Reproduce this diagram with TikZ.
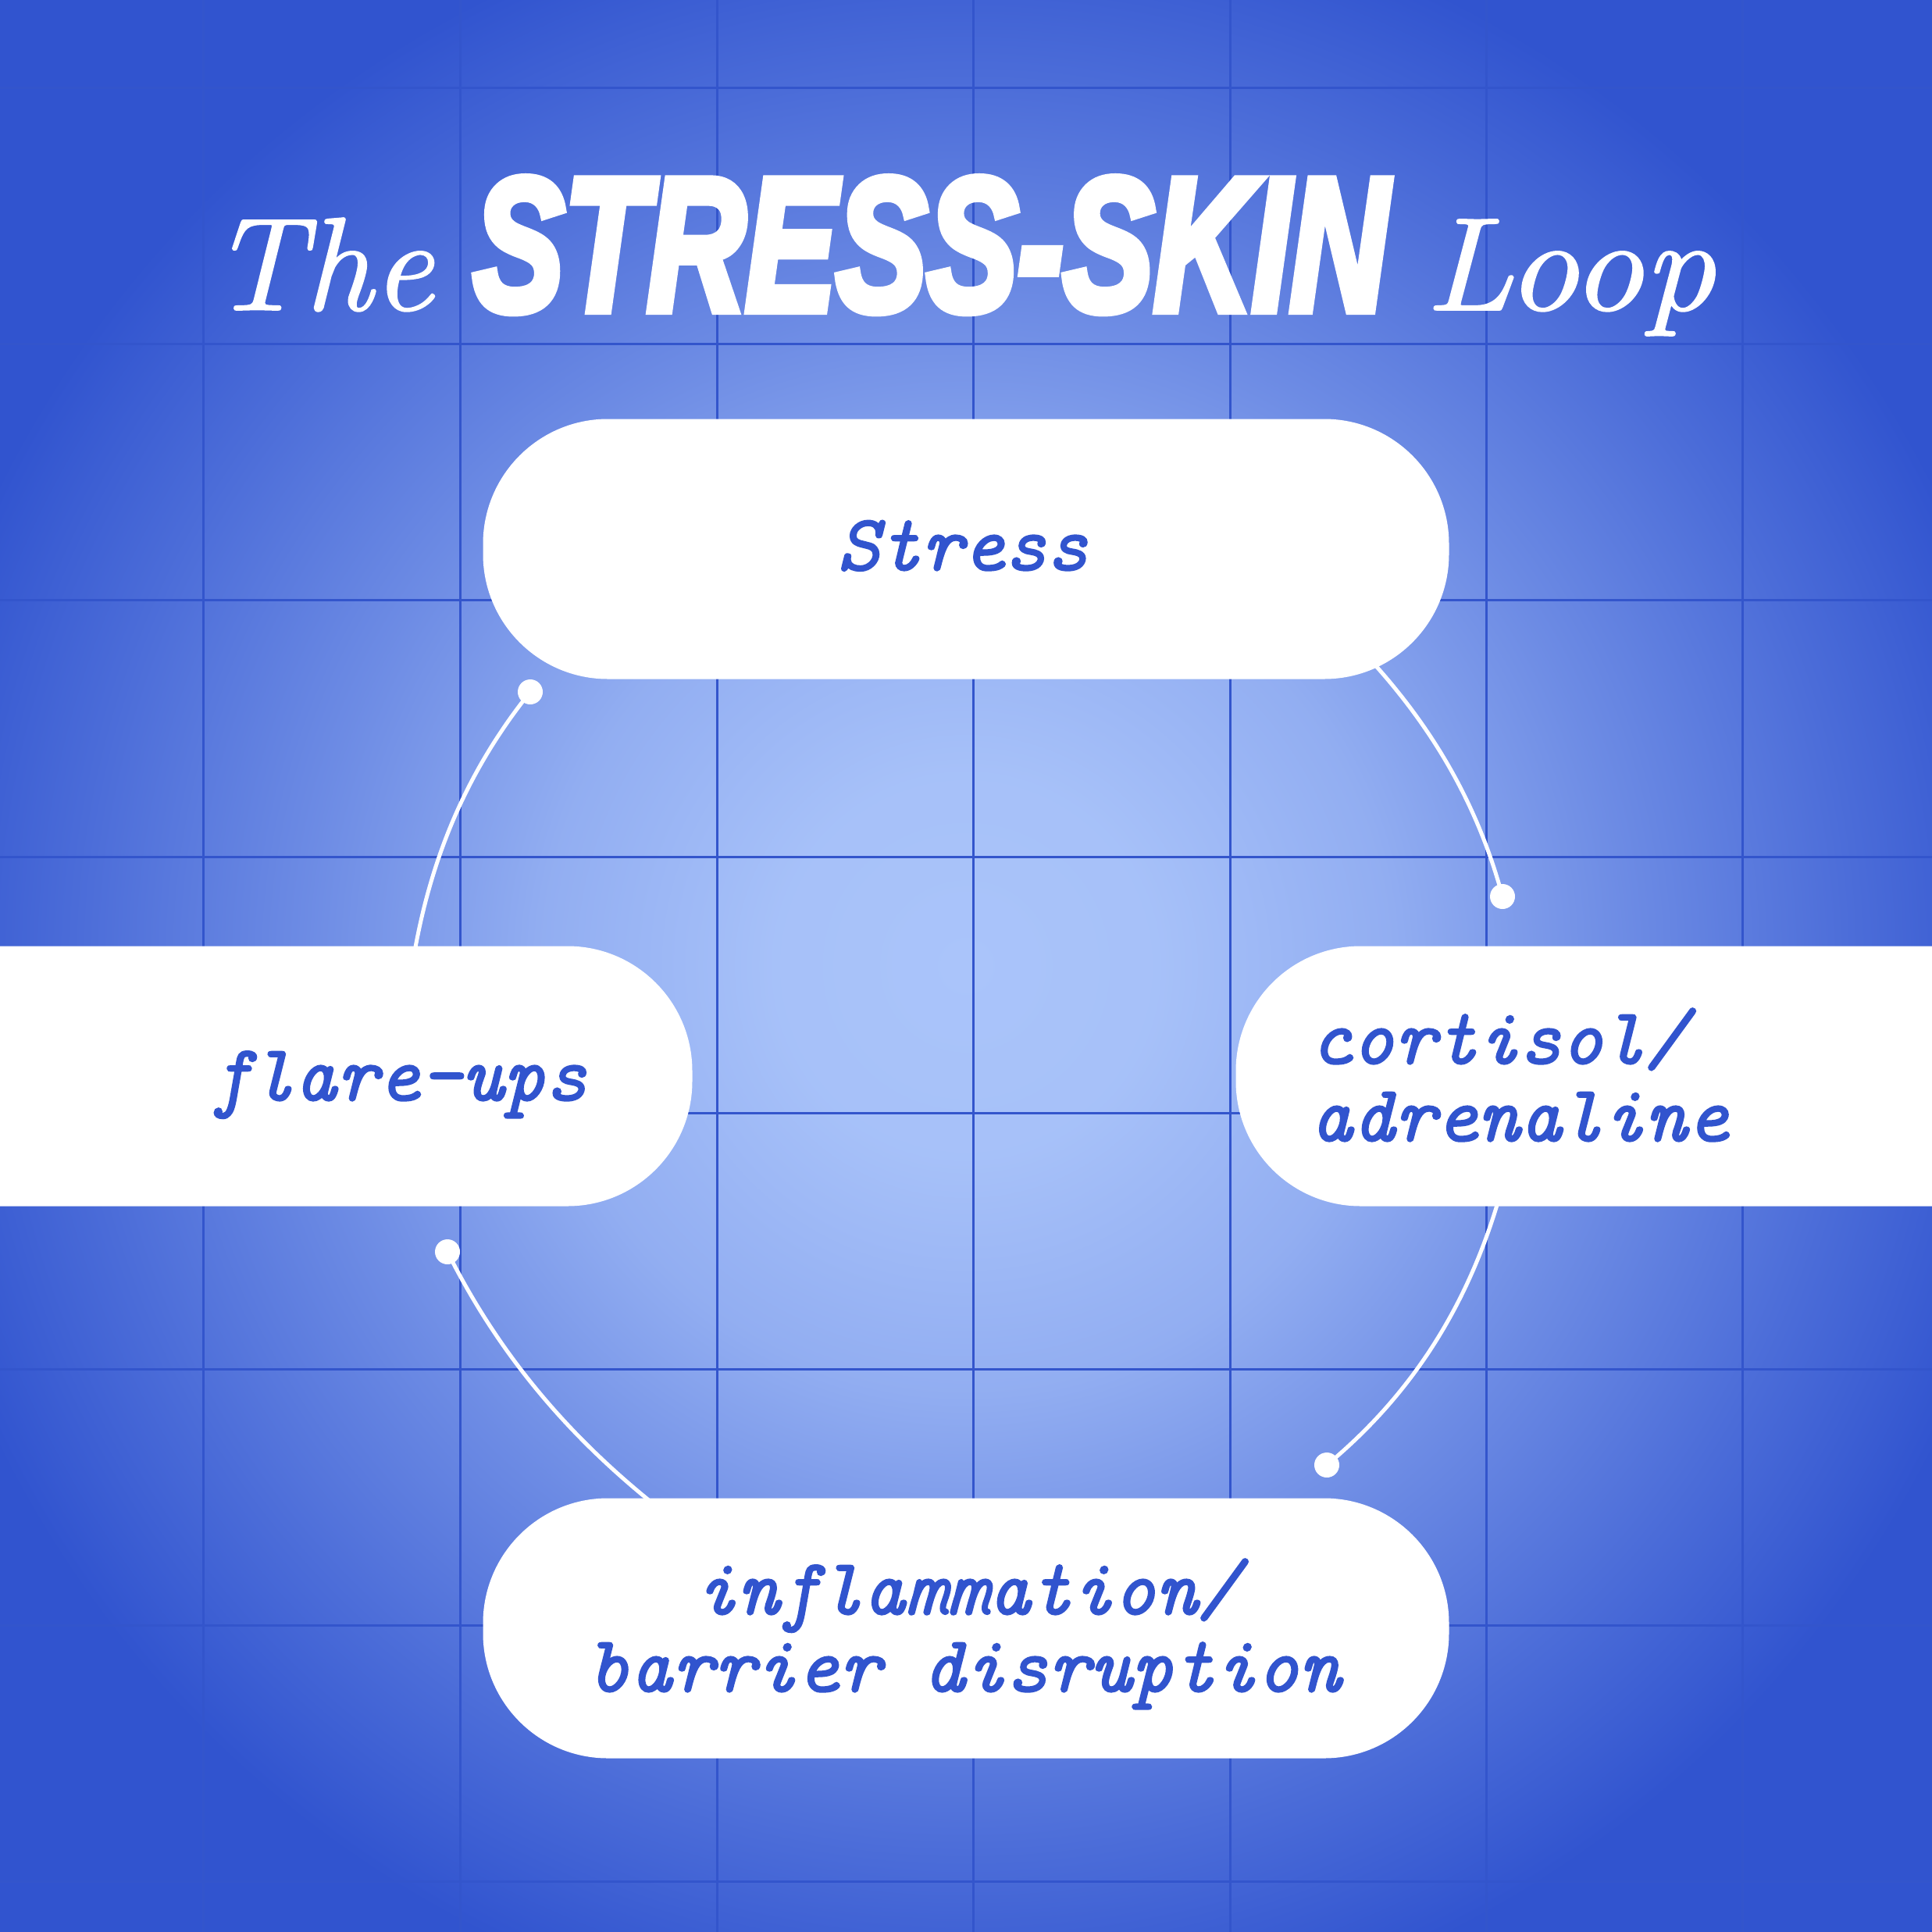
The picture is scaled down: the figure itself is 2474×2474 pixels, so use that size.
\documentclass[tikz,border=0pt]{standalone}
\usepackage{fontspec}
\usepackage{graphicx}
\newfontfamily\lblfont{lmmono10-italic}[Extension=.otf, FakeBold=2]
\newfontfamily\heavyfont{Liberation Sans}[FakeBold=5]
\newfontfamily\serifit{lmroman10-italic}[Extension=.otf, FakeBold=1]
\definecolor{bgdark}{HTML}{3154CF}
\definecolor{bglight}{HTML}{AAC4FA}
\definecolor{ink}{HTML}{3154CE}
\definecolor{gridc}{HTML}{3355CC}
\pgfdeclareradialshading{bgshade}{\pgfpoint{0bp}{0bp}}{color(0bp)=(bglight); color(5bp)=(bglight!97!bgdark); color(11bp)=(bglight!80!bgdark); color(17bp)=(bglight!50!bgdark); color(23bp)=(bglight!22!bgdark); color(28bp)=(bgdark); color(50bp)=(bgdark)}
\pgfdeclarelayer{bg}
\pgfdeclarelayer{conn}
\pgfsetlayers{bg,conn,main}
\tikzset{
  gridline/.style={draw=gridc, line width=3pt},
  box/.style={fill=white, draw=none, rounded corners=160pt, minimum width=1237pt, minimum height=333pt, inner sep=0pt},
  lbl/.style={text=ink, inner sep=0pt, font=\lblfont\fontsize{102}{100}\selectfont},
  ttl/.style={text=white, inner sep=0pt, anchor=base west},
  conn/.style={draw=white, line width=5pt},
  dotnode/.style={circle, fill=white, draw=none, minimum size=32pt, inner sep=0pt}
}
\begin{document}
\begin{tikzpicture}[x=1pt, y=-1pt]
\useasboundingbox (0,0) rectangle (2474,2474);
\begin{pgfonlayer}{bg}
  \shade[shading=bgshade] (0,0) rectangle (2474,2474);
  \foreach \x in {260,589,918,1246,1575,1903,2231}
    \draw[gridline] (\x,0) -- (\x,2474);
  \foreach \y in {112,440,768,1097,1425,1753,2081,2409}
    \draw[gridline] (0,\y) -- (2474,\y);
\end{pgfonlayer}

% title
\node[ttl, font=\serifit\fontsize{170}{170}\selectfont] (the) at (268,397) {The};
\node[ttl, font=\heavyfont\bfseries\itshape\fontsize{242}{242}\selectfont] (stressskin) at (606,397) {\scalebox{0.72}[1]{STRESS-SKIN}};
\node[ttl, font=\serifit\fontsize{170}{170}\selectfont] (loop) at (1825,397) {\scalebox{1.06}[1]{Loop}};

% boxes
\node[box] (stress) at (1237,703) {};
\node[box] (cortisol) at (2201,1378) {};
\node[box] (inflam) at (1237,2085) {};
\node[box] (flare) at (268,1378) {};

% labels
\node[lbl, anchor=base] (stressT) at (1233,730) {Stress};
\node[lbl, anchor=base west] (cortT1) at (1678,1362) {cortisol/};
\node[lbl, anchor=base west] (cortT2) at (1678,1461) {adrenaline};
\node[lbl, anchor=base] (inflT1) at (1239,2067) {inflammation/};
\node[lbl, anchor=base] (inflT2) at (1235,2166) {barrier disruption};
\node[lbl, anchor=base] (flareT) at (511,1409) {flare-ups};

% dots
\node[dotnode] (d1) at (1924,1148) {};
\node[dotnode] (d2) at (1699,1876) {};
\node[dotnode] (d3) at (573,1603) {};
\node[dotnode] (d4) at (679,886) {};

\coordinate (s1) at (1754,844);
\coordinate (s2) at (1920,1533);
\coordinate (s3) at (837,1926);
\coordinate (s4) at (530,1224);

\begin{pgfonlayer}{conn}
  \draw[conn] (stress.center) -- (s1) .. controls (1840,938) and (1894,1037) .. (d1.center);
  \draw[conn] (cortisol.center) -- (s2) .. controls (1878,1677) and (1805,1788) .. (d2.center);
  \draw[conn] (inflam.center) -- (s3) .. controls (720,1832) and (635,1727) .. (d3.center);
  \draw[conn] (flare.center) -- (s4) .. controls (553,1091) and (602,982) .. (d4.center);
\end{pgfonlayer}
\end{tikzpicture}
\end{document}
